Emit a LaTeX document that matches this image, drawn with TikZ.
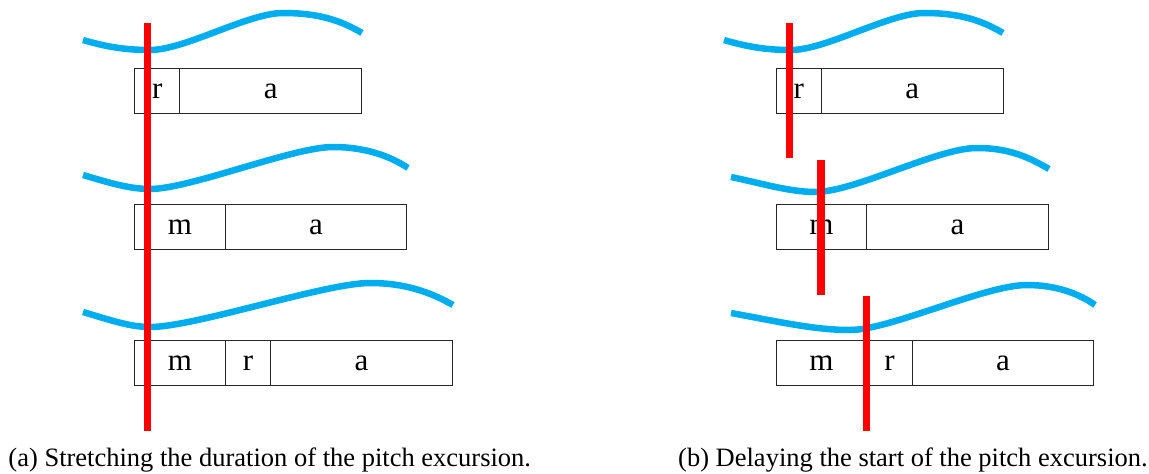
\documentclass[tikz,border=0pt]{standalone}
\usepackage{fontspec}
\setmainfont{Liberation Serif}
\definecolor{pitchblue}{RGB}{0,174,239}
\definecolor{cutred}{RGB}{255,0,0}
\begin{document}
\begin{tikzpicture}[x=1pt,y=-1pt,
  cell/.style={draw=black!85, line width=0.9pt, minimum width=#1*45.4pt, minimum height=45.4pt,
    inner sep=0pt, outer sep=0pt, anchor=north west, font=\fontsize{31}{31}\selectfont},
  pitch/.style={draw=pitchblue, line width=6.5pt},
  cut/.style={draw=cutred, line width=7.5pt},
  capt/.style={anchor=base west, inner sep=0pt, font=\fontsize{26.5}{26.5}\selectfont}]
\useasboundingbox (0,0) rectangle (1149,474);

% ---------- pitch curves, panel (a)
\draw[pitch] (83,40) .. controls (110,48) and (130,50) .. (150,50)
  .. controls (185,50) and (248,13) .. (283,13)
  .. controls (318,13) and (340,20) .. (362,33);
\draw[pitch] (83,175) .. controls (110,183) and (130,189) .. (150,189)
  .. controls (190,189) and (293,147) .. (333,147)
  .. controls (365,147) and (390,156) .. (408,168);
\draw[pitch] (83,312) .. controls (110,320) and (130,327) .. (150,327)
  .. controls (195,327) and (325,283) .. (370,283)
  .. controls (405,283) and (430,292) .. (453,305);

% ---------- pitch curves, panel (b)
\draw[pitch] (724,40) .. controls (751,48) and (771,50) .. (791,50)
  .. controls (826,50) and (889,13) .. (924,13)
  .. controls (959,13) and (981,20) .. (1003,33);
\draw[pitch] (731,177) .. controls (760,183) and (790,192) .. (815,192)
  .. controls (855,192) and (937,148) .. (977,148)
  .. controls (1010,148) and (1030,158) .. (1049,169);
\draw[pitch] (731,313) .. controls (780,322) and (815,330) .. (850,330)
  .. controls (890,330) and (985,285) .. (1027,285)
  .. controls (1055,285) and (1078,293) .. (1095,305);

% ---------- segment boxes, panel (a)
\node[cell=1] (a1r) at (134.5,68.4) {r};
\node[cell=4] (a1a) at (a1r.north east) {a};
\node[cell=2] (a2m) at (134.5,204.4) {m};
\node[cell=4] (a2a) at (a2m.north east) {a};
\node[cell=2] (a3m) at (134.5,340.5) {m};
\node[cell=1] (a3r) at (a3m.north east) {r};
\node[cell=4] (a3a) at (a3r.north east) {a};

% ---------- segment boxes, panel (b)
\node[cell=1] (b1r) at (776,68.4) {r};
\node[cell=4] (b1a) at (b1r.north east) {a};
\node[cell=2] (b2m) at (776,204.4) {m};
\node[cell=4] (b2a) at (b2m.north east) {a};
\node[cell=2] (b3m) at (776,340.5) {m};
\node[cell=1] (b3r) at (b3m.north east) {r};
\node[cell=4] (b3a) at (b3r.north east) {a};

% ---------- red alignment lines
\coordinate (aTop) at (147.7,23.3);
\coordinate (aBot) at (147.7,430.7);
\draw[cut] (aTop) -- (aBot);
\coordinate (b1Top) at (789.3,23.3);
\coordinate (b1Bot) at (789.3,158.3);
\coordinate (b2Top) at (821,159.5);
\coordinate (b2Bot) at (821,295);
\coordinate (b3Top) at (866.3,295.5);
\coordinate (b3Bot) at (866.3,430.7);
\draw[cut] (b1Top) -- (b1Bot);
\draw[cut] (b2Top) -- (b2Bot);
\draw[cut] (b3Top) -- (b3Bot);

% ---------- captions
\node[capt] (capa) at (8.3,466.7) {(a) Stretching the duration of the pitch excursion.};
\node[capt] (capb) at (678,466.7) {(b) Delaying the start of the pitch excursion.};
\end{tikzpicture}
\end{document}
